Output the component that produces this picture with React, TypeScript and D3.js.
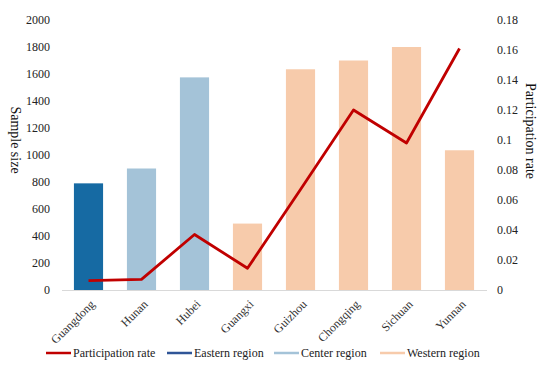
import React, { useRef, useEffect } from "react";
import * as d3 from "d3";

const provinces = ["Guangdong", "Hunan", "Hubei", "Guangxi", "Guizhou", "Chongqing", "Sichuan", "Yunnan"];
const regions = ["Eastern", "Center", "Center", "Western", "Western", "Western", "Western", "Western"];
const sampleSize = [790, 900, 1575, 492, 1635, 1700, 1800, 1035];
const participation = [0.0062, 0.0071, 0.037, 0.0145, 0.067, 0.12, 0.098, 0.161];
const leftTicks = [0, 200, 400, 600, 800, 1000, 1200, 1400, 1600, 1800, 2000];
const rightTicks = [0, 0.02, 0.04, 0.06, 0.08, 0.1, 0.12, 0.14, 0.16, 0.18];

const barColor: Record<string, string> = {
	Eastern: "#166aa3",
	Center: "#a4c3d8",
	Western: "#f7cbab",
};

const legendItems = [
	{ label: "Participation rate", color: "#c00000", x: 46 },
	{ label: "Eastern region", color: "#2f5597", x: 167 },
	{ label: "Center region", color: "#a4c3d8", x: 274 },
	{ label: "Western region", color: "#f7cbab", x: 380 },
];

const FONT = "'Liberation Serif', 'DejaVu Serif', serif";

const App = () => {
	const svgRef = useRef<SVGSVGElement | null>(null);

	useEffect(() => {
		if (!svgRef.current) return;
		const svg = d3.select(svgRef.current);
		svg.selectAll("*").remove();

		const left = 62, right = 486, top = 20, bottom = 290;

		const x = d3.scaleBand().domain(provinces).range([left, right]).paddingInner(0.45).paddingOuter(0.225);
		const yL = d3.scaleLinear().domain([0, 2000]).range([bottom, top]);
		const yR = d3.scaleLinear().domain([0, 0.18]).range([bottom, top]);

		// bars
		svg.append("g")
			.selectAll("rect")
			.data(provinces)
			.join("rect")
			.attr("x", (d) => x(d)!)
			.attr("width", x.bandwidth())
			.attr("y", (_, i) => yL(sampleSize[i]))
			.attr("height", (_, i) => bottom - yL(sampleSize[i]))
			.attr("fill", (_, i) => barColor[regions[i]]);

		// baseline
		svg.append("line")
			.attr("x1", left).attr("x2", right + 1)
			.attr("y1", bottom + 0.5).attr("y2", bottom + 0.5)
			.attr("stroke", "#d9d9d9");

		// left axis
		svg.append("g")
			.selectAll("text")
			.data(leftTicks)
			.join("text")
			.attr("x", 50)
			.attr("y", (d) => yL(d))
			.attr("dy", "0.35em")
			.attr("text-anchor", "end")
			.style("font-family", FONT)
			.style("font-size", "12px")
			.attr("fill", "#222")
			.text((d) => d);

		// right axis
		svg.append("g")
			.selectAll("text")
			.data(rightTicks)
			.join("text")
			.attr("x", 497)
			.attr("y", (d) => yR(d))
			.attr("dy", "0.35em")
			.style("font-family", FONT)
			.style("font-size", "12px")
			.attr("fill", "#222")
			.text((d) => d3.format("~g")(d));

		// axis titles
		svg.append("text")
			.attr("transform", `translate(11,140) rotate(90)`)
			.attr("text-anchor", "middle")
			.style("font-family", FONT)
			.style("font-size", "14px")
			.attr("fill", "#111")
			.text("Sample size");
		svg.append("text")
			.attr("transform", `translate(526,131) rotate(90)`)
			.attr("text-anchor", "middle")
			.style("font-family", FONT)
			.style("font-size", "14px")
			.attr("fill", "#111")
			.text("Participation rate");

		// category labels
		svg.append("g")
			.selectAll("text")
			.data(provinces)
			.join("text")
			.attr("transform", (d) => `translate(${x(d)! + x.bandwidth() / 2 + 4},${bottom + 12}) rotate(-45)`)
			.attr("text-anchor", "end")
			.attr("dy", "0.35em")
			.style("font-family", FONT)
			.style("font-size", "12px")
			.attr("fill", "#333")
			.text((d) => d);

		// line
		const line = d3.line<number>()
			.x((_, i) => x(provinces[i])! + x.bandwidth() / 2)
			.y((d) => yR(d));
		svg.append("path")
			.datum(participation)
			.attr("d", line)
			.attr("fill", "none")
			.attr("stroke", "#c00000")
			.attr("stroke-width", 2.8)
			.attr("stroke-linejoin", "round");

		// legend
		const lg = svg.append("g").selectAll("g").data(legendItems).join("g");
		lg.append("line")
			.attr("x1", (d) => d.x).attr("x2", (d) => d.x + 25)
			.attr("y1", 353).attr("y2", 353)
			.attr("stroke", (d) => d.color)
			.attr("stroke-width", 2.5);
		lg.append("text")
			.attr("x", (d) => d.x + 27)
			.attr("y", 353)
			.attr("dy", "0.35em")
			.style("font-family", FONT)
			.style("font-size", "12px")
			.attr("fill", "#222")
			.text((d) => d.label);
	}, []);

	return (
		<div style={{ position: "absolute", left: 0, top: 0, width: 550, height: 373, background: "#fff" }}>
			<svg ref={svgRef} width={550} height={373}></svg>
		</div>
	);
};

export default App;
